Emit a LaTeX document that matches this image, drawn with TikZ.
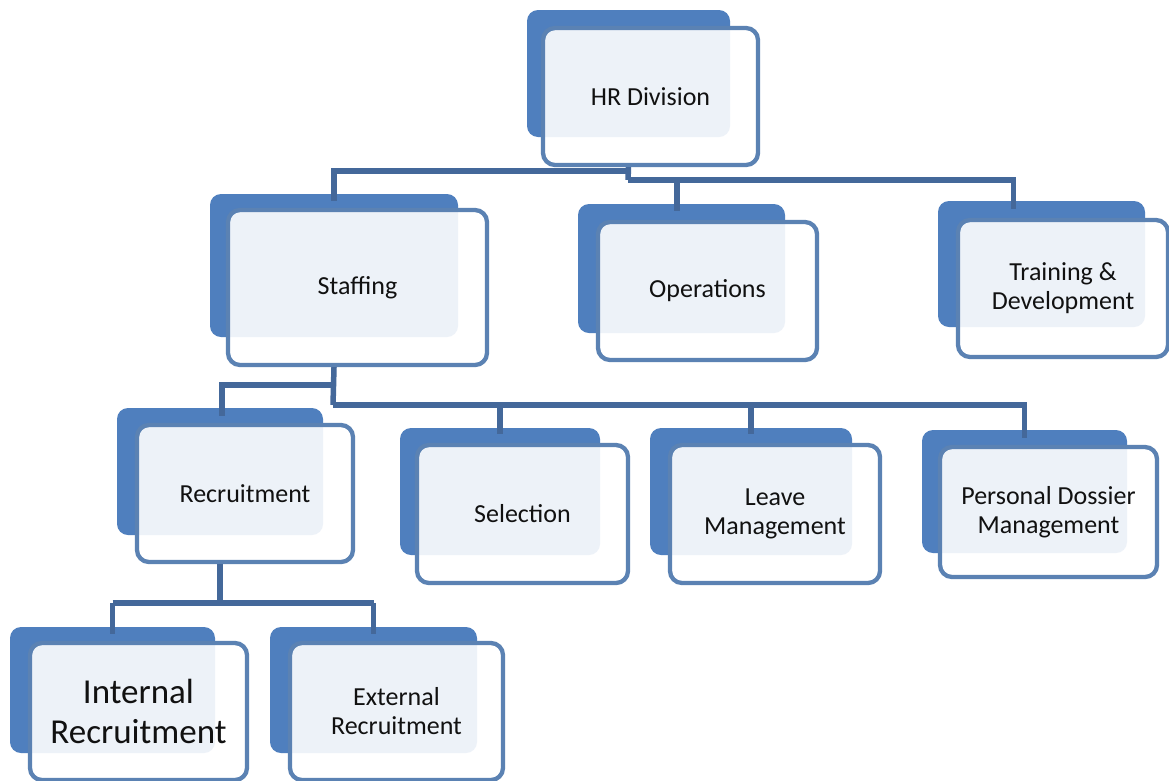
\documentclass[tikz,border=0pt]{standalone}
\usepackage{fontspec}
\setmainfont{Carlito}
\definecolor{backblue}{HTML}{4F7FBE}
\definecolor{frontedge}{HTML}{5B82B3}
\definecolor{connblue}{HTML}{44689A}
\definecolor{txt}{HTML}{111111}
\begin{document}
\begin{tikzpicture}[x=1pt,y=-1pt,
  backcard/.style={draw=none, fill=backblue, rounded corners=11pt, inner sep=0pt},
  frontcard/.style={draw=frontedge, line width=4.3pt, fill=white, fill opacity=0.9, text opacity=1,
    rounded corners=12pt, inner sep=0pt, align=center, text=txt,
    font=\fontsize{26}{29}\selectfont},
  bigtext/.style={font=\fontsize{35}{40}\selectfont},
  conn/.style={draw=connblue, line width=5.5pt}
]
\useasboundingbox (0,0) rectangle (1169,780);
\fill[white] (0,0) rectangle (1169,780);

% cards: back then front
\node[backcard, minimum width=203pt, minimum height=127pt] (hrb) at (628.5,73.5) {};
\node[frontcard, minimum width=215pt, minimum height=137pt] (hr) at (650.5,96.5) {HR Division};

\node[backcard, minimum width=248pt, minimum height=143pt] (stb) at (334,265.5) {};
\node[frontcard, minimum width=259pt, minimum height=155pt] (st) at (357.5,287.5) {Staffing};

\node[backcard, minimum width=207pt, minimum height=129pt] (opb) at (681.5,268.5) {};
\node[frontcard, minimum width=219pt, minimum height=138pt] (op) at (707.5,291) {Operations};

\node[backcard, minimum width=207pt, minimum height=126pt] (tdb) at (1041.5,264) {};
\node[frontcard, minimum width=210pt, minimum height=137pt] (td) at (1063,288.5) {Training \&\\Development};

\node[backcard, minimum width=206pt, minimum height=127pt] (rcb) at (220,471.5) {};
\node[frontcard, minimum width=216pt, minimum height=137pt] (rc) at (245,493.5) {Recruitment};

\node[backcard, minimum width=200pt, minimum height=127pt] (seb) at (500,491.5) {};
\node[frontcard, minimum width=211pt, minimum height=138pt] (se) at (522.5,514) {Selection};

\node[backcard, minimum width=202pt, minimum height=127pt] (lmb) at (751,491.5) {};
\node[frontcard, minimum width=210pt, minimum height=138pt] (lm) at (775,514) {Leave\\Management};

\node[backcard, minimum width=205pt, minimum height=123pt] (pdb) at (1024.5,491.5) {};
\node[frontcard, minimum width=217pt, minimum height=130pt] (pd) at (1048.5,512) {Personal Dossier\\Management};

\node[backcard, minimum width=205pt, minimum height=126pt] (irb) at (112.5,690) {};
\node[frontcard, bigtext, minimum width=217pt, minimum height=137pt] (ir) at (138.5,711.5) {Internal\\Recruitment};

\node[backcard, minimum width=207pt, minimum height=126pt] (erb) at (373.5,690) {};
\node[frontcard, minimum width=213pt, minimum height=137pt] (er) at (396.5,711.5) {External\\Recruitment};

% junction coordinates
\coordinate (j1) at (628,171);
\coordinate (j2) at (628,180);
\coordinate (j3) at (333,385);
\coordinate (j4) at (333,405);
\coordinate (j5) at (220,603);

% level 1
\draw[conn] (hrb.center |- hr.south) -- (j2);
\draw[conn] (j1) -| ([yshift=-7pt]stb.north);
\draw[conn] (j2) -| ([xshift=-28pt,yshift=-8pt]tdb.north);
\draw[conn] ([xshift=-4.5pt]opb.north |- j2) -- ([xshift=-4.5pt,yshift=-7pt]opb.north);
% level 2
\draw[conn] (stb.center |- st.south) -- (j4);
\draw[conn] (j3) -| ([xshift=2pt,yshift=-8pt]rcb.north);
\draw[conn] (j4) -| ([yshift=-8pt]pdb.north);
\draw[conn] (seb.north |- j4) -- ([yshift=-6pt]seb.north);
\draw[conn] (lmb.north |- j4) -- ([yshift=-6pt]lmb.north);
% level 3
\draw[conn] (rcb.center |- rc.south) -- (j5);
\draw[conn] (irb.north |- j5) -- (erb.north |- j5);
\draw[conn] (irb.north |- j5) -- ([yshift=-7pt]irb.north);
\draw[conn] (erb.north |- j5) -- ([yshift=-7pt]erb.north);
\end{tikzpicture}
\end{document}
